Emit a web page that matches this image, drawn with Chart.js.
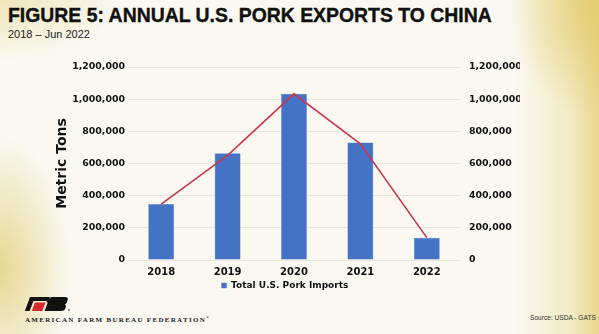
<!DOCTYPE html>
<html>
<head>
<meta charset="utf-8">
<script src="https://cdn.jsdelivr.net/npm/chart.js@4.4.0/dist/chart.umd.min.js"></script>
<style>
  html, body { margin: 0; padding: 0; }
  body {
    width: 599px; height: 334px; overflow: hidden; position: relative;
    background:
      radial-gradient(ellipse 90px 120px at 100% 0%, rgba(226,204,110,0.95), rgba(226,204,110,0) 100%),
      linear-gradient(to left, rgba(229,210,125,0.85) 0px, rgba(238,226,165,0.55) 30px, rgba(250,248,239,0) 85px),
      radial-gradient(ellipse 70px 130px at 0% 80%, rgba(226,210,130,0.85), rgba(226,210,130,0) 100%),
      radial-gradient(ellipse 120px 60px at 0% 0%, rgba(232,218,150,0.6), rgba(232,218,150,0) 100%),
      #FAF8F0;
  }
  .title {
    position: absolute; left: 8px; top: 4px; white-space: nowrap;
    font-family: "Liberation Sans", Arial, sans-serif; font-weight: bold;
    font-size: 21px; line-height: 21px; color: #111;
    -webkit-text-stroke: 0.4px #111;
    transform-origin: 0 0; transform: scaleX(0.924);
  }
  .subtitle {
    position: absolute; left: 8px; top: 29px; white-space: nowrap;
    font-family: "Liberation Sans", Arial, sans-serif; font-size: 11px; line-height: 11px; color: #222;
  }
  .org {
    position: absolute; left: 25px; top: 314px; white-space: nowrap;
    font-family: "Liberation Serif", serif; font-weight: bold; font-size: 7px; line-height: 7px;
    letter-spacing: 1.3px; color: #222;
  }
  .source {
    position: absolute; left: 530px; top: 315px; white-space: nowrap;
    font-family: "Liberation Sans", Arial, sans-serif; font-size: 6.6px; line-height: 6px; color: #333;
  }
  #wrap { position: absolute; left: 0; top: 0; width: 523px; height: 334px; overflow: hidden; }
  #logo { position: absolute; left: 0; top: 0; }
</style>
</head>
<body>
<div class="title">FIGURE 5: ANNUAL U.S. PORK EXPORTS TO CHINA</div>
<div class="subtitle">2018 – Jun 2022</div>
<svg id="logo" width="80" height="334" viewBox="0 0 80 334">
  <polygon points="30,297 50,297 48.6,301 28.6,301" fill="#111"/>
  <polygon points="28.6,301 33.4,301 29.6,311 24.8,311" fill="#111"/>
  <polygon points="35,302.6 45.5,302.6 42.3,311 31.8,311" fill="#d42a2a"/>
  <path d="M51,297 L65,297 Q68.5,297 67.6,300 L67,302.2 Q66.4,304 64.6,304.2 Q66.4,304.6 65.8,306.8 L65.2,309 Q64.4,311 61,311 L44.6,311 L47.8,302.6 L46,302.6 Z" fill="#111"/>
  <circle cx="69" cy="310" r="0.8" fill="#111"/>
</svg>
<div class="org">AMERICAN FARM BUREAU FEDERATION<sup style="font-size:4px">®</sup></div>
<div class="source">Source: USDA - GATS</div>
<div id="wrap"><canvas id="c" width="599" height="334" style="width:599px;height:334px"></canvas></div>
<script>
const years = ['2018', '2019', '2020', '2021', '2022'];
const porkExports = [348000, 664000, 1033000, 731000, 139000];
const trendLine = [348000, 650000, 1033000, 722000, 139000];
const seriesName = 'Total U.S. Pork Imports';
const axisTitle = 'Metric Tons';
const axisMax = 1200000;
const axisStep = 200000;

const tickFont = { family: 'DejaVu Sans', weight: 'bold', size: 9.4 };
const fmt = v => Number(v).toLocaleString('en-US');

new Chart(document.getElementById('c'), {
  data: {
    labels: years,
    datasets: [
      {
        type: 'line', label: 'trend', data: trendLine, yAxisID: 'y1',
        borderColor: '#C8374F', borderWidth: 1.6, pointRadius: 0, tension: 0, fill: false, order: 0
      },
      {
        type: 'bar', label: seriesName, data: porkExports, yAxisID: 'y',
        backgroundColor: '#4472C4', borderColor: '#5A84CC', borderWidth: 0.5,
        barPercentage: 0.39, categoryPercentage: 1, order: 1
      }
    ]
  },
  options: {
    responsive: false, animation: false, devicePixelRatio: 1,
    layout: { padding: { left: 50, right: 79, top: 67, bottom: 34 } },
    plugins: {
      tooltip: { enabled: false },
      legend: {
        position: 'bottom',
        labels: {
          filter: item => item.text === seriesName,
          boxWidth: 5, boxHeight: 5, padding: 4, color: '#111',
          font: { family: 'DejaVu Sans', weight: 'bold', size: 9 }
        }
      }
    },
    scales: {
      x: {
        afterFit: s => { s.height = s.height - 7; },
        grid: { display: false, drawTicks: false },
        border: { display: false },
        ticks: { color: '#111', padding: 6, font: { family: 'DejaVu Sans', weight: 'bold', size: 10 } }
      },
      y: {
        position: 'left', min: 0, max: axisMax,
        afterFit: s => { s.width = 78; },
        ticks: { stepSize: axisStep, color: '#111', padding: 3, font: tickFont, callback: fmt },
        grid: { color: 'rgba(0,0,0,0.07)', drawTicks: false },
        border: { display: false },
        title: { display: true, text: axisTitle, color: '#111', padding: { top: 4, bottom: 0 },
                 font: { family: 'DejaVu Sans', weight: 'bold', size: 14 } }
      },
      y1: {
        position: 'right', min: 0, max: axisMax,
        afterFit: s => { s.width = 60; },
        ticks: { stepSize: axisStep, color: '#111', padding: 9, font: tickFont, callback: fmt },
        grid: { display: false, drawTicks: false },
        border: { display: false }
      }
    }
  }
});
</script>
</body>
</html>
